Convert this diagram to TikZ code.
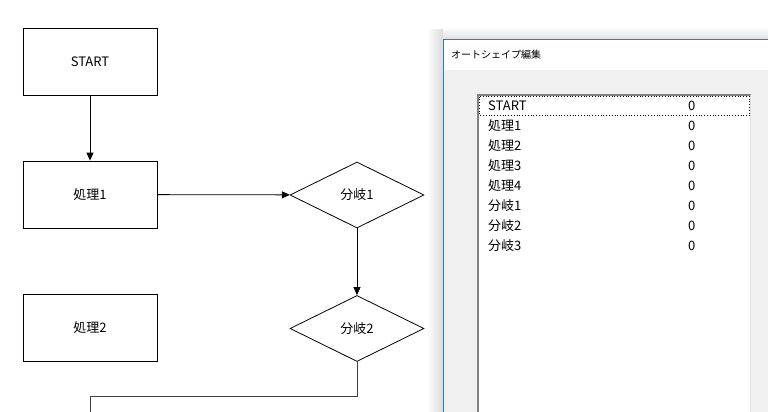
\documentclass[tikz,border=0pt]{standalone}
\usepackage{fontspec}
\setmainfont{Noto Sans CJK JP}
\usetikzlibrary{shapes.geometric,arrows.meta}
\definecolor{winblue}{HTML}{2B79D0}
\definecolor{wingray}{HTML}{F0F0F0}
\begin{document}
\begin{tikzpicture}[x=1pt,y=-1pt,
		box/.style={draw, line width=.8pt, minimum width=134pt, minimum height=67pt, inner sep=0pt, font=\fontsize{13}{15}\selectfont},
		branch/.style={draw, diamond, line width=.8pt, minimum width=134pt, minimum height=66pt, inner sep=0pt, font=\fontsize{13}{15}\selectfont},
		arr/.style={line width=.8pt, -{Triangle[width=7pt,length=8pt]}},
		item/.style={anchor=west, inner sep=0pt, font=\fontsize{13}{15}\selectfont}]
		\useasboundingbox (0,0) rectangle (768,412);
		\node[box] (start) at (90,61.5) {START};
		\node[box] (proc1) at (90,194.5) {処理1};
		\node[box] (proc2) at (90,328) {処理2};
		\node[branch] (br1) at (357,195) {分岐1};
		\node[branch] (br2) at (357,328.5) {分岐2};
		\coordinate (endp) at (90,412);
		\draw[arr] (start) -- (proc1);
		\draw[arr] (proc1) -- (br1);
		\draw[arr] (br1) -- (br2);
		\draw[line width=.8pt, black!75] (br2.south) -- ++(0,34) -| (endp);
		\shade[left color=white, right color=black!14] (427,30) rectangle (443,412);
		\shade[top color=white, bottom color=black!12] (443,27) rectangle (768,39);
		\fill[wingray] (443,39) rectangle (768,412);
		\fill[white] (443,39) rectangle (768,70);
		\draw[winblue, line width=1pt] (443.5,412) -- (443.5,39.5) -- (768,39.5);
		\node[anchor=west, inner sep=0pt, font=\fontsize{10}{12}\selectfont] (title) at (451,55) {オートシェイプ編集};
		\fill[white] (477,94) rectangle (751,412);
		\draw[black!50, line width=2pt] (478,412) -- (478,95) -- (751,95);
		\draw[black!12, line width=1pt] (750.5,95) -- (750.5,412);
		\draw[dotted, line width=.8pt] (479.5,96.5) rectangle (749.5,115.5);
		\foreach \t [count=\i from 0] in {START,処理1,処理2,処理3,処理4,分岐1,分岐2,分岐3}{
			\node[item] (row\i) at (488,105.5+20*\i) {\t};
			\node[item] (val\i) at (688,105.5+20*\i) {0};
		}
	\end{tikzpicture}
\end{document}
